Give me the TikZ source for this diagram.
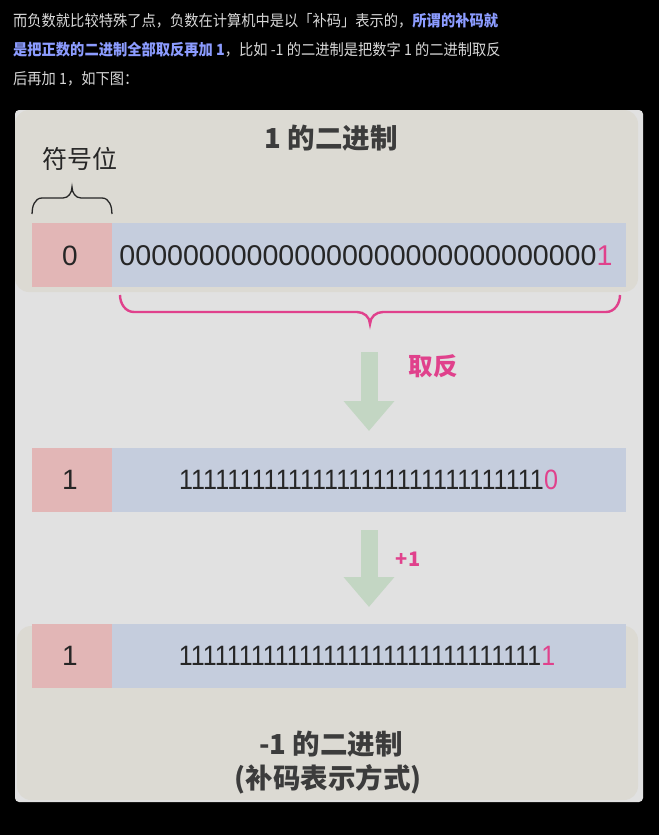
\documentclass[tikz,border=0pt]{standalone}
\usepackage{fontspec}
\setmainfont{Liberation Sans}
\newfontfamily\cjk{Noto Sans CJK SC}
\usetikzlibrary{arrows.meta}
\definecolor{toptext}{HTML}{D8D8D8}
\definecolor{hl}{HTML}{8C9CFF}
\definecolor{panelgray}{HTML}{E1E1E1}
\definecolor{beige}{HTML}{DCDAD3}
\definecolor{signred}{HTML}{E2B6B6}
\definecolor{bitblue}{HTML}{C5CDDD}
\definecolor{garrowc}{HTML}{C3D6C3}
\definecolor{mag}{HTML}{E0418C}
\definecolor{dark}{HTML}{262626}
\tikzset{
  txt/.style={inner sep=0pt, anchor=west, text=toptext, font=\cjk\fontsize{15.5}{18}\selectfont},
  signbox/.style={fill=signred, draw=none},
  bitbox/.style={fill=bitblue, draw=none},
  garrow/.style={draw=garrowc, line width=17pt, -{Triangle[width=49pt,length=30pt]}},
  ttl/.style={inner sep=0pt, text=dark!90, font=\cjk\bfseries\fontsize{27.5}{32}\selectfont},
  lbl/.style={inner sep=0pt, text=mag, font=\cjk\bfseries\fontsize{24.5}{28}\selectfont},
  digits/.style={inner sep=0pt, text=dark, font=\fontsize{28}{30}\selectfont}
}
\begin{document}
\begin{tikzpicture}[x=1pt,y=-1pt]
\useasboundingbox (0,0) rectangle (659,835);
\fill[black] (0,0) rectangle (659,835);
% top paragraph
\node[txt] (l1) at (13,21) {\scalebox{0.92}[1]{而负数就比较特殊了点，负数在计算机中是以「补码」表示的，{\bfseries\color{hl}所谓的补码就}}};
\node[txt] (l2) at (13,50) {\scalebox{0.92}[1]{{\bfseries\color{hl}是把正数的二进制全部取反再加 1}，比如 -1 的二进制是把数字 1 的二进制取反}};
\node[txt] (l3) at (13,79) {\scalebox{0.92}[1]{后再加 1，如下图：}};
% panel
\fill[panelgray, rounded corners=4] (15,110) rectangle (643,802);
\fill[beige, rounded corners=14] (15,110) rectangle (638,292);
\fill[beige, rounded corners=14] (17,626) rectangle (638,800);
% title
\node[ttl] (t1) at (331,138) {1 的二进制};
\node[inner sep=0pt, text=dark, font=\cjk\fontsize{25}{28}\selectfont] (sg) at (80,159) {符号位};
\draw[dark, line width=1.3pt] (32,214) to[out=90,in=180] (42,198) -- (63,198) to[out=0,in=-90] (72,187)
  to[out=-90,in=180] (81,198) -- (102,198) to[out=0,in=90] (112,214);
% row 1
\fill[signbox] (32,223) rectangle (112,287);
\fill[bitbox] (112,223) rectangle (626,287);
\node[digits] (s1) at (70,256) {0};
\node[digits, font=\fontsize{28.6}{30}\selectfont] (b1) at (366,256) {000000000000000000000000000000\textcolor{mag}{1}};
% magenta brace
\draw[mag, line width=2.4pt] (120,295) to[out=-90,in=180] (134,312) -- (357,312) to[out=0,in=90] (370,324)
  to[out=90,in=180] (383,312) -- (606,312) to[out=0,in=-90] (620,295);
% arrow 1
\coordinate (a1s) at (369,352);
\coordinate (a1e) at (369,431);
\draw[garrow] (a1s) -- (a1e);
\node[lbl] (q1) at (433,366) {取反};
% row 2
\fill[signbox] (32,448) rectangle (112,512);
\fill[bitbox] (112,448) rectangle (626,512);
\node[digits] (s2) at (70,480) {1};
\node[digits] (b2) at (368.5,480) {\scalebox{0.897}[1]{111111111111111111111111111111\textcolor{mag}{0}}};
% arrow 2
\coordinate (a2s) at (369,530);
\coordinate (a2e) at (369,607);
\draw[garrow] (a2s) -- (a2e);
\node[lbl, font=\cjk\bfseries\fontsize{20}{24}\selectfont] (q2) at (408,559) {+1};
% row 3
\fill[signbox] (32,624) rectangle (112,688);
\fill[bitbox] (112,624) rectangle (626,688);
\node[digits] (s3) at (70,656) {1};
\node[digits] (b3) at (367,656) {\scalebox{0.891}[1]{111111111111111111111111111111\textcolor{mag}{1}}};
% bottom title
\node[ttl] (t2) at (331,744) {-1 的二进制};
\node[ttl] (t3) at (328,779) {(补码表示方式)};
\end{tikzpicture}
\end{document}
